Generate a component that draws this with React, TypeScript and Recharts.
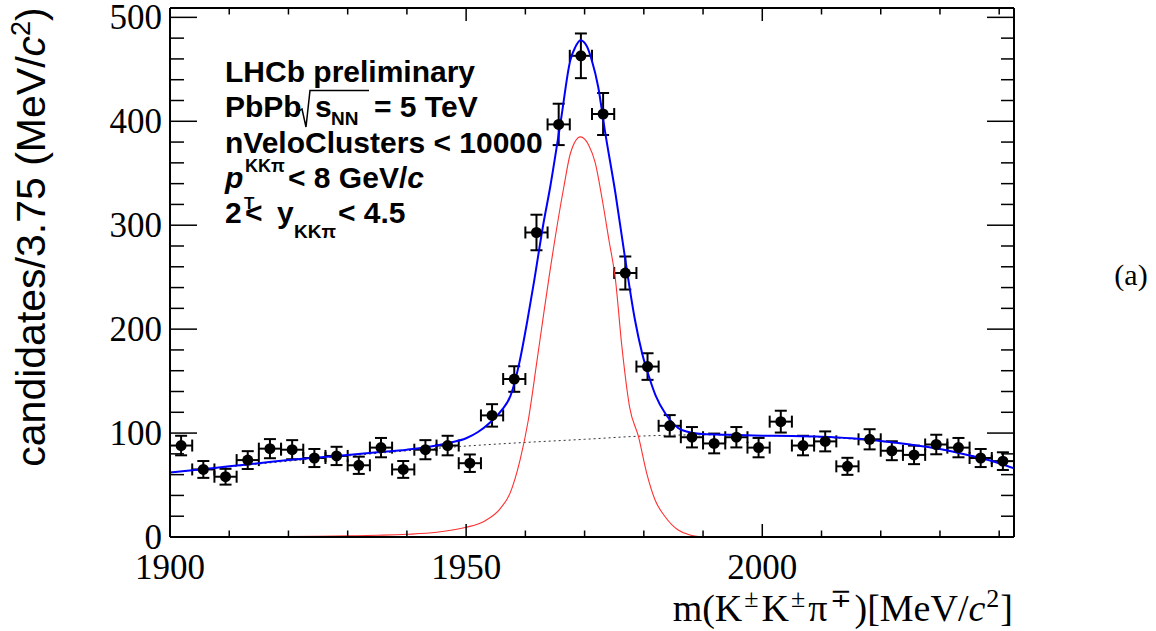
import { ComposedChart, Line, Scatter, XAxis, YAxis, ErrorBar } from 'recharts';

// bin centres (3.75 MeV bins) and counts
const massBins = [
  1901.875, 1905.625, 1909.375, 1913.125, 1916.875, 1920.625, 1924.375, 1928.125,
  1931.875, 1935.625, 1939.375, 1943.125, 1946.875, 1950.625, 1954.375, 1958.125,
  1961.875, 1965.625, 1969.375, 1973.125, 1976.875, 1980.625, 1984.375, 1988.125,
  1991.875, 1995.625, 1999.375, 2003.125, 2006.875, 2010.625, 2014.375, 2018.125,
  2021.875, 2025.625, 2029.375, 2033.125, 2036.875, 2040.625,
];
const counts = [
  88, 65, 58, 74, 85, 84, 76, 78, 69, 86, 65, 84, 88, 71, 117, 152, 293, 397, 463, 407,
  254, 164, 107, 96, 90, 96, 86, 111, 88, 92, 68, 94, 83, 79, 89, 86, 76, 73,
];
const countErrors = [
  9.4, 8.1, 7.6, 8.6, 9.2, 9.2, 8.7, 8.8, 8.3, 9.3, 8.1, 9.2, 9.4, 8.4, 10.8, 12.3, 17.1, 19.9, 21.5, 20.2,
  15.9, 12.8, 10.3, 9.8, 9.5, 9.8, 9.3, 10.5, 9.4, 9.6, 8.2, 9.7, 9.1, 8.9, 9.4, 9.3, 8.7, 8.5,
];
const binHalfWidth = 1.875;

// total fit (blue)
const totalMass = [
  1900, 1905, 1910, 1915, 1920, 1925, 1930, 1935, 1940, 1944, 1947, 1950, 1952, 1954, 1956,
  1957.5, 1959, 1960.3, 1961.5, 1963, 1964.2, 1966, 1967.6, 1968.4, 1969.3, 1970.4, 1971.2,
  1972.3, 1973.4, 1975.2, 1977, 1978.5, 1979.7, 1981, 1982, 1983.6, 1986.4, 1990, 1995, 2000,
  2005, 2010, 2015, 2020, 2025, 2030, 2035, 2040, 2042.5,
];
const totalValue = [
  62, 65, 68, 71, 74, 76.5, 79, 81.5, 84, 87, 90.5, 95, 101, 110, 122,
  136, 168, 207, 247, 300, 337, 401, 459, 471, 478, 472, 459,
  433, 392, 331, 262, 209, 177, 152, 136, 119, 103, 99, 98.3, 97.5,
  97.2, 96.5, 95, 92.4, 89, 84.7, 78.5, 71, 66,
];

// signal component (red)
const signalMass = [
  1916, 1920, 1925, 1930, 1935, 1940, 1945, 1950, 1953, 1955.8, 1957.4, 1959.1, 1960.5,
  1961.9, 1963.1, 1964, 1966.5, 1967.6, 1969.3, 1970.7, 1971.8, 1973, 1974.1, 1975.2,
  1976.3, 1977.6, 1979.1, 1980.5, 1981.9, 1983.6, 1985.8, 1987.5, 1990,
];
const signalValue = [
  0, 0.4, 0.7, 1.1, 1.7, 2.6, 4.5, 9.3, 15, 27.6, 42, 74, 112.6,
  167, 215, 250, 337, 369, 385, 377, 360, 324, 286, 248,
  183, 125, 96.5, 61, 35.6, 19.5, 6.7, 2.5, 0,
];

// background component (dotted)
const bkgMass = [1900, 1910, 1920, 1930, 1940, 1950, 1960, 1970, 1980, 1990, 2000, 2010, 2020, 2030, 2040, 2042.5];
const bkgValue = [62, 67.5, 73, 78, 83, 87.5, 91, 94, 97.2, 98.3, 97.5, 96, 92, 84.5, 71, 66];

const xTicks = [1900, 1910, 1920, 1930, 1940, 1950, 1960, 1970, 1980, 1990, 2000, 2010, 2020, 2030, 2040];
const xLabels = [1900, 1950, 2000];
const yTicks = [0, 20, 40, 60, 80, 100, 120, 140, 160, 180, 200, 220, 240, 260, 280, 300, 320, 340, 360, 380, 400, 420, 440, 460, 480, 500];
const yLabels = [0, 100, 200, 300, 400, 500];

const W = 1156;
const H = 631;
const PLOT_L = 170;
const PLOT_R = 1014;
const PLOT_T = 8;
const PLOT_B = 537;

const points = massBins.map((m, i) => ({ m, v: counts[i], ex: binHalfWidth, ey: countErrors[i] }));
const totalFit = totalMass.map((m, i) => ({ m, v: totalValue[i] }));
const signal = signalMass.map((m, i) => ({ m, v: signalValue[i] }));
const background = bkgMass.map((m, i) => ({ m, v: bkgValue[i] }));

const serif = 'Liberation Serif, Times New Roman, serif';
const sans = 'Liberation Sans, Arial, sans-serif';

function LeftTick({ y, payload }: any) {
  const major = yLabels.includes(payload.value);
  return (
    <g>
      <line x1={PLOT_L} x2={PLOT_L + (major ? 27 : 14)} y1={y} y2={y} stroke="#000" strokeWidth={1.5} />
      {major && (
        <text x={PLOT_L - 8} y={y + 12} textAnchor="end" fontFamily={serif} fontSize={35} fill="#000">
          {payload.value}
        </text>
      )}
    </g>
  );
}

function RightTick({ y, payload }: any) {
  const major = yLabels.includes(payload.value);
  return <line x1={PLOT_R} x2={PLOT_R - (major ? 27 : 13)} y1={y} y2={y} stroke="#000" strokeWidth={1.5} />;
}

function BottomTick({ x, payload }: any) {
  const major = xLabels.includes(payload.value);
  return (
    <g>
      <line x1={x} x2={x} y1={PLOT_B} y2={PLOT_B - (major ? 13 : 6.5)} stroke="#000" strokeWidth={1.5} />
      {major && (
        <text x={x} y={PLOT_B + 42} textAnchor="middle" fontFamily={serif} fontSize={35} fill="#000">
          {payload.value}
        </text>
      )}
    </g>
  );
}

function TopTick({ x, payload }: any) {
  const major = xLabels.includes(payload.value);
  return <line x1={x} x2={x} y1={PLOT_T} y2={PLOT_T + (major ? 13 : 6.5)} stroke="#000" strokeWidth={1.5} />;
}

const dot = (p: any) => <circle cx={p.cx} cy={p.cy} r={5.5} fill="#000" />;

export default function App() {
  const axisLine = { stroke: '#000', strokeWidth: 2 };
  return (
    <div style={{ position: 'absolute', left: 0, top: 0, width: W, height: H, background: '#fff' }}>
      <ComposedChart
        width={W}
        height={H}
        margin={{ top: PLOT_T - 1, right: W - PLOT_R - 1, bottom: H - PLOT_B - 1, left: PLOT_L - 1 }}
      >
        <XAxis
          xAxisId="b"
          type="number"
          dataKey="m"
          domain={[1900, 2042.5]}
          ticks={xTicks}
          interval={0}
          height={1}
          allowDataOverflow
          axisLine={axisLine}
          tickLine={false}
          tick={<BottomTick />}
        />
        <XAxis
          xAxisId="t"
          orientation="top"
          type="number"
          dataKey="m"
          domain={[1900, 2042.5]}
          ticks={xTicks}
          interval={0}
          height={1}
          allowDataOverflow
          axisLine={axisLine}
          tickLine={false}
          tick={<TopTick />}
        />
        <YAxis
          yAxisId="l"
          type="number"
          domain={[0, 509]}
          ticks={yTicks}
          interval={0}
          width={1}
          allowDataOverflow
          axisLine={axisLine}
          tickLine={false}
          tick={<LeftTick />}
        />
        <YAxis
          yAxisId="r"
          orientation="right"
          type="number"
          domain={[0, 509]}
          ticks={yTicks}
          interval={0}
          width={1}
          allowDataOverflow
          axisLine={axisLine}
          tickLine={false}
          tick={<RightTick />}
        />
        <Scatter xAxisId="b" yAxisId="l" data={points} dataKey="v" shape={dot} isAnimationActive={false}>
          <ErrorBar dataKey="ey" direction="y" width={6} stroke="#000" strokeWidth={2} />
          <ErrorBar dataKey="ex" direction="x" width={6} stroke="#000" strokeWidth={2} />
        </Scatter>
        <Line
          xAxisId="b"
          yAxisId="l"
          data={background}
          dataKey="v"
          type="monotone"
          stroke="#333"
          strokeWidth={1}
          strokeDasharray="2 3"
          dot={false}
          isAnimationActive={false}
        />
        <Line
          xAxisId="b"
          yAxisId="l"
          data={signal}
          dataKey="v"
          type="monotone"
          stroke="#ff3030"
          strokeWidth={1.1}
          dot={false}
          isAnimationActive={false}
        />
        <Line
          xAxisId="b"
          yAxisId="l"
          data={totalFit}
          dataKey="v"
          type="monotone"
          stroke="#0000ff"
          strokeWidth={2}
          dot={false}
          isAnimationActive={false}
        />
      </ComposedChart>

      <svg width={W} height={H} style={{ position: 'absolute', left: 0, top: 0, pointerEvents: 'none' }}>
        {/* axis titles */}
        <text transform="translate(45,237) rotate(-90)" textAnchor="middle" fontFamily={sans} fontSize={41} fill="#000">
          candidates/3.75 (MeV/<tspan fontStyle="italic">c</tspan>
          <tspan dy={-15} fontSize={27}>2</tspan>
          <tspan dy={15}>)</tspan>
        </text>
        <text x={1013} y={621} textAnchor="end" fontFamily={serif} fontSize={38} fill="#000">
          m(K<tspan dy={-14} fontSize={26} dx={2}>±</tspan>
          <tspan dy={14} dx={3}>K</tspan>
          <tspan dy={-14} fontSize={26} dx={2}>±</tspan>
          <tspan dy={14} dx={3}>π</tspan>
          <tspan dy={-14} fontSize={26} dx={2}>∓</tspan>
          <tspan dy={14} dx={3}>)[MeV/</tspan>
          <tspan fontStyle="italic">c</tspan>
          <tspan dy={-14} fontSize={26} dx={1}>2</tspan>
          <tspan dy={14} dx={1}>]</tspan>
        </text>

        {/* info box */}
        <g fontFamily={sans} fontWeight="bold" fill="#000">
          <text x={225} y={82} fontSize={30}>LHCb preliminary</text>

          <text x={225} y={117} fontSize={30}>PbPb</text>
          <path d="M 299 111 L 302 109 L 306 127 L 310 90.5 L 369 90.5" fill="none" stroke="#000" strokeWidth={1.5} />
          <text x={315} y={117} fontSize={30}>s</text>
          <text x={331} y={125} fontSize={19}>NN</text>
          <text x={374} y={117} fontSize={30}>= 5 TeV</text>

          <text x={225} y={153} fontSize={30}>nVeloClusters &lt; 10000</text>

          <text x={225} y={188} fontSize={30} fontStyle="italic">p</text>
          <text x={245} y={172} fontSize={18}>KKπ</text>
          <text x={244} y={209} fontSize={17}>T</text>
          <text x={288} y={188} fontSize={30}>
            &lt; 8 GeV/<tspan fontStyle="italic">c</tspan>
          </text>

          <text x={225} y={223} fontSize={30}>2</text>
          <text x={245} y={223} fontSize={30}>&lt;</text>
          <text x={277} y={223} fontSize={30}>y</text>
          <text x={294} y={238} fontSize={19}>KKπ</text>
          <text x={338} y={223} fontSize={30}>&lt; 4.5</text>
        </g>

        <text x={1131} y={285} textAnchor="middle" fontFamily={serif} fontSize={30} fill="#000">(a)</text>
      </svg>
    </div>
  );
}
